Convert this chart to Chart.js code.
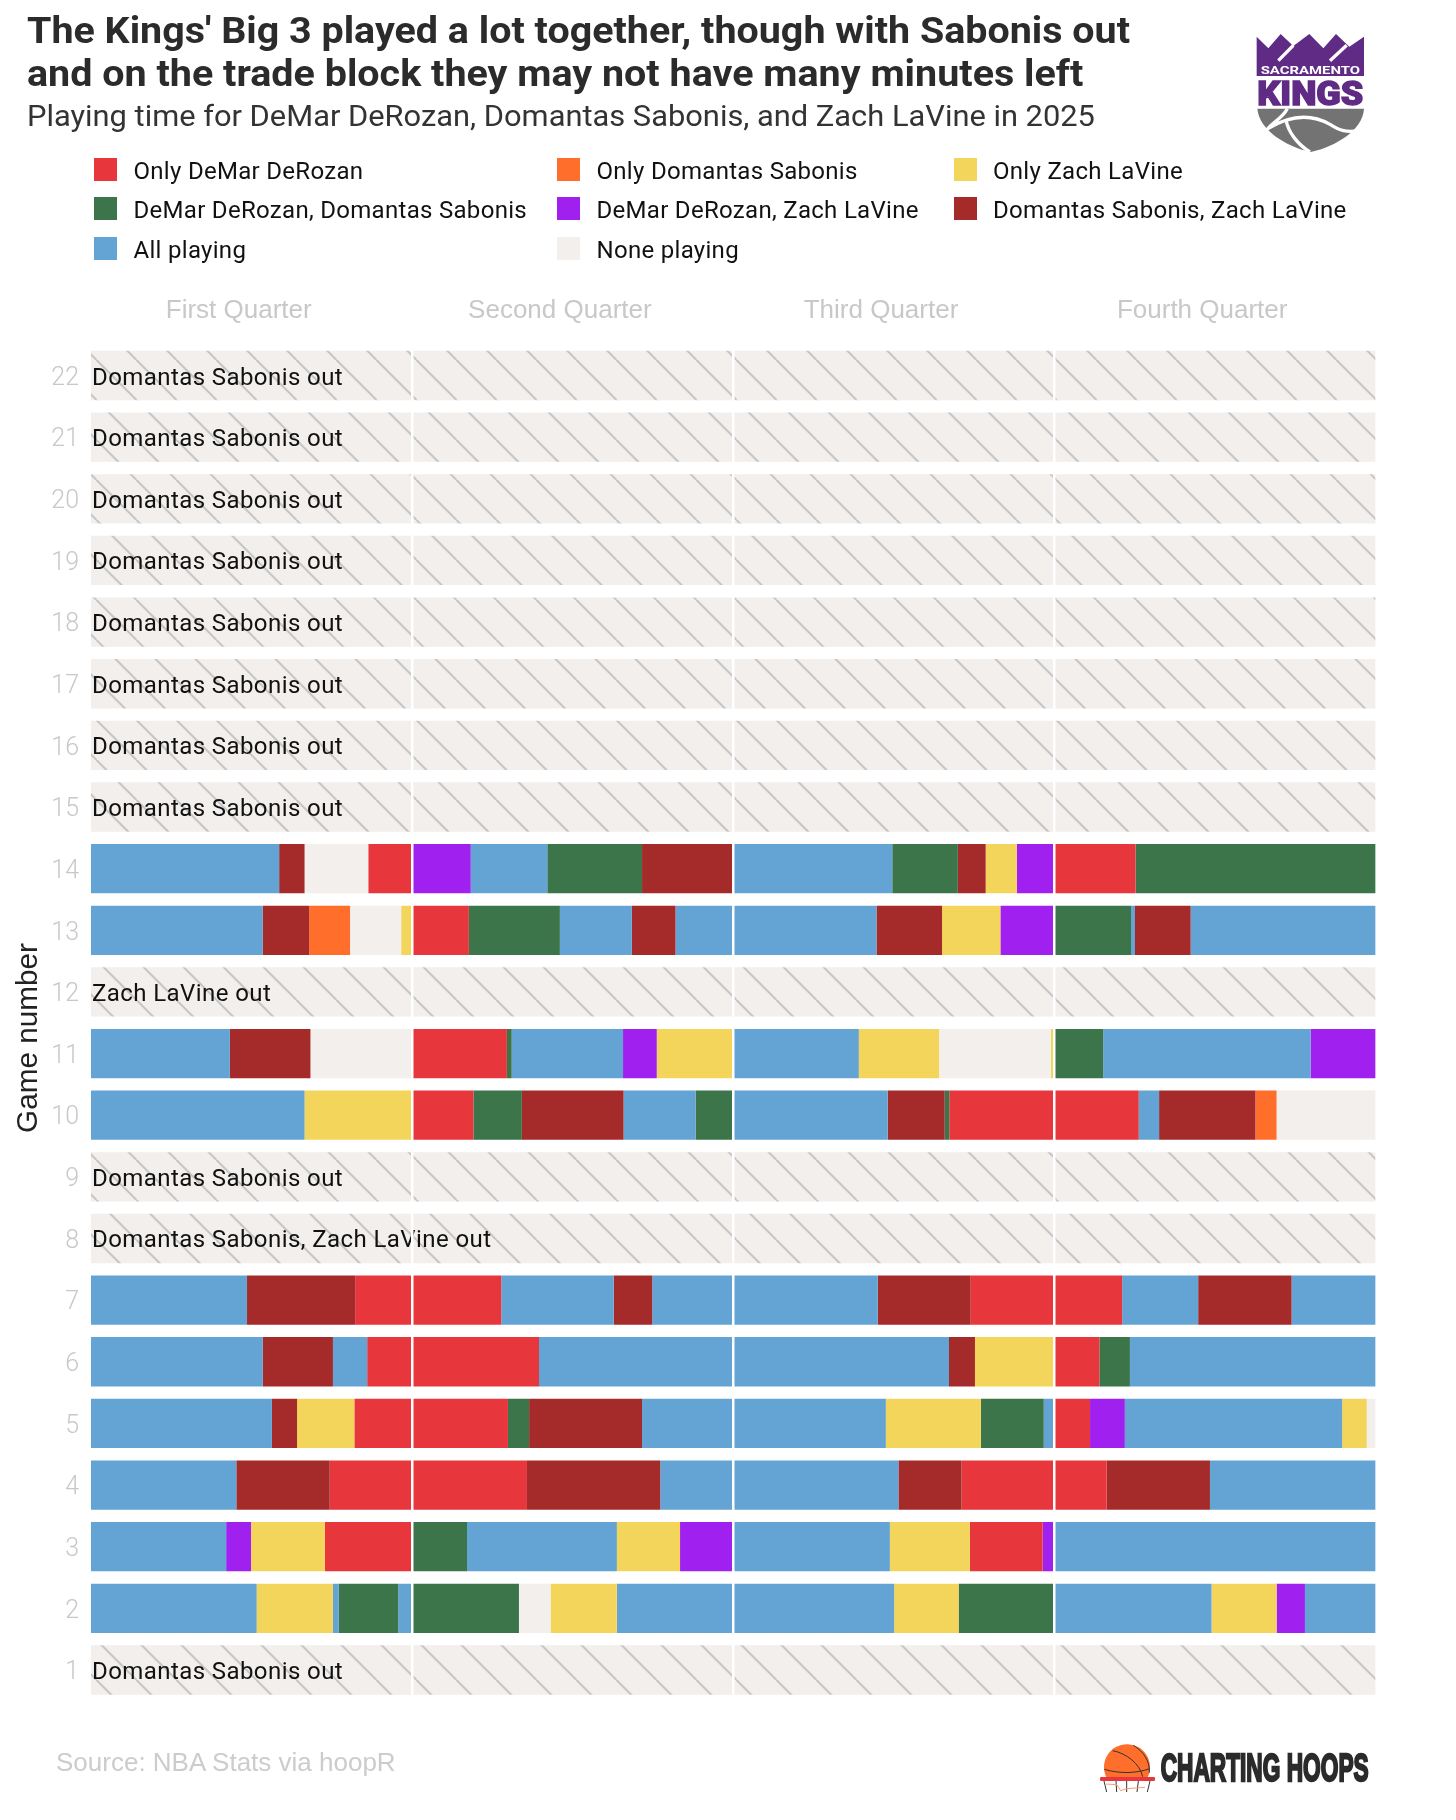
<!DOCTYPE html>
<html>
<head>
<meta charset="utf-8">
<title>Kings Big 3 playing time</title>
<script src="https://cdn.jsdelivr.net/npm/chart.js@4"></script>
<style>
  body { margin: 0; background: #fff; }
  #page { position: relative; width: 1456px; height: 1820px; overflow: hidden; font-family: Roboto, sans-serif; }
  #chart { position: absolute; left: 0; top: 0; }
  .txt { position: absolute; white-space: nowrap; transform-origin: left center; }
  .title { font-weight: 700; font-size: 37px; line-height: 44px; color: #2b2b2b; }
  .sub { font-weight: 400; font-size: 30px; line-height: 36px; color: #333; }
  .leg { font-size: 24px; line-height: 30px; color: #111; letter-spacing: 0.3px; }
  .swatch { position: absolute; width: 23px; height: 23px; }
  .source { font-family: "Liberation Sans", sans-serif; font-size: 26px; line-height: 30px; color: #ccc; }
  svg { position: absolute; }
</style>
</head>
<body>
<div id="page">
  <canvas id="chart" width="1456" height="1820"></canvas>

  <div class="txt title" data-w="1103" style="left:27px;top:9px">The Kings' Big 3 played a lot together, though with Sabonis out</div>
  <div class="txt title" data-w="1056" style="left:27px;top:52px">and on the trade block they may not have many minutes left</div>
  <div class="txt sub" data-w="1068" style="left:27px;top:98px">Playing time for DeMar DeRozan, Domantas Sabonis, and Zach LaVine in 2025</div>
  <div class="txt source" style="left:56px;top:1747px">Source: NBA Stats via hoopR</div>

  <svg style="left:1250px;top:20px" width="130" height="140" viewBox="0 0 390 420">
    <path fill="#5f2b85" d="M20 50 L55 85 L92 42 L130 78 L178 42 L220 85 L258 42 L298 80 L342 50 L342 168 L20 168 Z"/>
    <path stroke="#fff" stroke-width="10" d="M85 122 L130 76 M240 122 L290 76"/>
    <text x="32" y="162" fill="#fff" font-family="Roboto" font-weight="700" font-size="34" textLength="298" lengthAdjust="spacingAndGlyphs">SACRAMENTO</text>
    <text x="22" y="256" fill="#5f2b85" stroke="#5f2b85" stroke-width="4" font-family="Roboto" font-weight="900" font-size="100" textLength="318" lengthAdjust="spacingAndGlyphs">KINGS</text>
    <path fill="#737373" d="M22 266 L342 266 C338 330 260 378 182 396 C105 378 28 330 22 266 Z"/>
    <path fill="none" stroke="#fff" stroke-width="10" d="M112 266 C95 298 60 310 45 338 M55 325 C130 280 190 285 240 313 C270 332 290 338 325 332 M108 300 C115 338 145 375 180 396"/>
  </svg>

  <svg style="left:1100px;top:1740px" width="300" height="70" viewBox="0 0 900 210">
    <path fill="#ff6e2a" d="M19 112 A69 69 0 1 1 143 112 Z"/>
    <path fill="none" stroke="#333" stroke-width="3" d="M13 88 C60 102 110 100 149 86 M38 32 C80 40 120 72 128 110 M100 16 C130 34 150 62 148 98"/>
    <rect x="0" y="111" width="165" height="12" rx="4" fill="#e8363d"/>
    <path fill="none" stroke="#333" stroke-width="3" d="M12 123 L20 156 M48 123 L50 156 M80 123 L80 156 M115 123 L111 156 M150 123 L142 156"/>
    <path fill="none" stroke="#ff9a66" stroke-width="3" d="M18 132 L50 134 L62 152 L80 146 L135 142"/>
    <text x="182" y="124" fill="#2b2b2b" stroke="#2b2b2b" stroke-width="7" font-family="Liberation Sans" font-weight="700" font-size="116" textLength="624" lengthAdjust="spacingAndGlyphs">CHARTING HOOPS</text>
  </svg>
</div>

<script>
const statusLabels = ['Only DeMar DeRozan', 'Only Domantas Sabonis', 'Only Zach LaVine',
  'DeMar DeRozan, Domantas Sabonis', 'DeMar DeRozan, Zach LaVine', 'Domantas Sabonis, Zach LaVine',
  'All playing', 'None playing'];
const statusColors = ['#e8363d', '#ff6e2a', '#f4d55b', '#3b7549', '#a020f0', '#a52a2a', '#63a4d4', '#f2efec'];
const [DD, DS, ZL, DD_DS, DD_ZL, DS_ZL, ALL, NONE] = statusLabels.keys();

const gameNumbers = ['22', '21', '20', '19', '18', '17', '16', '15', '14', '13', '12', '11', '10', '9', '8', '7', '6', '5', '4', '3', '2', '1'];
const quarterLabels = ['First Quarter', 'Second Quarter', 'Third Quarter', 'Fourth Quarter'];
const quarterLabelMinutes = [5.52, 17.52, 29.52, 41.52];
const quarterBreaks = [12, 24, 36];

// [who is on the floor, game minute the stint ends]
const game14 = [[ALL, 7.03], [DS_ZL, 7.98], [NONE, 10.36], [DD, 12], [DD_ZL, 14.19], [ALL, 17.05], [DD_DS, 20.59], [DS_ZL, 24], [ALL, 29.94], [DD_DS, 32.39], [DS_ZL, 33.43], [ZL, 34.59], [DD_ZL, 36], [DD, 39.03], [DD_DS, 48]];
const game13 = [[ALL, 6.42], [DS_ZL, 8.15], [DS, 9.68], [NONE, 11.59], [ZL, 12], [DD, 14.12], [DD_DS, 17.52], [ALL, 20.21], [DS_ZL, 21.84], [ALL, 29.35], [DS_ZL, 31.8], [ZL, 33.98], [DD_ZL, 36], [DD_DS, 38.86], [ALL, 39.01], [DS_ZL, 41.09], [ALL, 48]];
const game11 = [[ALL, 5.19], [DS_ZL, 8.2], [NONE, 12], [DD, 15.54], [DD_DS, 15.72], [ALL, 19.88], [DD_ZL, 21.14], [ZL, 24], [ALL, 28.69], [ZL, 31.69], [NONE, 35.86], [ZL, 36], [DD_DS, 37.82], [ALL, 45.57], [DD_ZL, 48]];
const game10 = [[ALL, 7.98], [ZL, 12], [DD, 14.29], [DD_DS, 16.1], [DS_ZL, 19.9], [ALL, 22.59], [DD_DS, 24], [ALL, 29.77], [DS_ZL, 31.9], [DD_DS, 32.07], [DD, 39.15], [ALL, 39.91], [DS_ZL, 43.51], [DS, 44.3], [NONE, 48]];
const game7 = [[ALL, 5.83], [DS_ZL, 9.87], [DD, 15.33], [ALL, 19.53], [DS_ZL, 20.97], [ALL, 29.4], [DS_ZL, 32.87], [DD, 38.53], [ALL, 41.37], [DS_ZL, 44.86], [ALL, 48]];
const game6 = [[ALL, 6.42], [DS_ZL, 9.04], [ALL, 10.32], [DD, 16.74], [ALL, 32.06], [DS_ZL, 33.03], [ZL, 36], [DD, 37.68], [DD_DS, 38.82], [ALL, 48]];
const game5 = [[ALL, 6.76], [DS_ZL, 7.7], [ZL, 9.84], [DD, 15.58], [DD_DS, 16.37], [DS_ZL, 20.59], [ALL, 29.7], [ZL, 33.25], [DD_DS, 35.6], [ALL, 36], [DD, 37.33], [DD_ZL, 38.63], [ALL, 46.75], [ZL, 47.67], [NONE, 48]];
const game4 = [[ALL, 5.43], [DS_ZL, 8.92], [DD, 16.29], [DS_ZL, 21.27], [ALL, 30.17], [DS_ZL, 32.53], [DD, 37.95], [DS_ZL, 41.81], [ALL, 48]];
const game3 = [[ALL, 5.05], [DD_ZL, 5.98], [ZL, 8.74], [DD, 12], [DD_DS, 14.05], [ALL, 19.65], [ZL, 22.01], [DD_ZL, 24], [ALL, 29.85], [ZL, 32.84], [DD, 35.56], [DD_ZL, 36], [ALL, 48]];
const game2 = [[ALL, 6.19], [ZL, 9.04], [ALL, 9.26], [DD_DS, 11.48], [ALL, 12], [DD_DS, 15.99], [NONE, 17.17], [ZL, 19.65], [ALL, 30.01], [ZL, 32.42], [DD_DS, 36], [ALL, 41.87], [ZL, 44.3], [DD_ZL, 45.36], [ALL, 48]];
const playedGames = { 14: game14, 13: game13, 11: game11, 10: game10, 7: game7, 6: game6, 5: game5, 4: game4, 3: game3, 2: game2 };

const missedGames = ['22', '21', '20', '19', '18', '17', '16', '15', '12', '9', '8', '1'];
const missedNotes = ['Domantas Sabonis out', 'Domantas Sabonis out', 'Domantas Sabonis out', 'Domantas Sabonis out',
  'Domantas Sabonis out', 'Domantas Sabonis out', 'Domantas Sabonis out', 'Domantas Sabonis out',
  'Zach LaVine out', 'Domantas Sabonis out', 'Domantas Sabonis, Zach LaVine out', 'Domantas Sabonis out'];

// legend columns are not evenly spaced, so it is plain html
const legendCols = [[94, 133.5], [557, 596.5], [954, 993]];
const legendRows = [170, 209, 249];
const page = document.getElementById('page');
statusLabels.forEach((label, i) => {
  const [swatchX, textX] = legendCols[i % 3];
  const y = legendRows[Math.floor(i / 3)];
  const swatch = document.createElement('div');
  swatch.className = 'swatch';
  swatch.style.cssText = `left:${swatchX}px;top:${y - 12}px;background:${statusColors[i]}`;
  page.appendChild(swatch);
  const text = document.createElement('div');
  text.className = 'txt leg';
  text.textContent = label;
  text.style.cssText = `left:${textX}px;top:${y - 14}px`;
  page.appendChild(text);
});

// squeeze the heading lines to the width they have in the original
document.querySelectorAll('[data-w]').forEach(el => {
  el.style.transform = `scaleX(${el.dataset.w / el.offsetWidth})`;
});

function hatchPattern() {
  const tile = document.createElement('canvas');
  tile.width = 40;
  tile.height = 40;
  const c = tile.getContext('2d');
  c.fillStyle = statusColors[NONE];
  c.fillRect(0, 0, 40, 40);
  c.strokeStyle = '#c6c6c6';
  c.lineWidth = 2;
  for (let k = -2; k <= 1; k++) {
    c.beginPath();
    c.moveTo(16.5 + k * 40, 0);
    c.lineTo(16.5 + k * 40 + 40, 40);
    c.stroke();
  }
  return c.createPattern(tile, 'repeat');
}

function rowData(game, range) {
  return gameNumbers.map(g => (g === game ? range : null));
}

const datasets = [];
const hatch = hatchPattern();
missedGames.forEach(game => {
  datasets.push({ label: 'out', data: rowData(game, [0, 48]), backgroundColor: hatch, xAxisID: 'x' });
});
Object.keys(playedGames).forEach(game => {
  let start = 0;
  playedGames[game].forEach(([status, end]) => {
    datasets.push({ label: statusLabels[status], data: rowData(game, [start, end]), backgroundColor: statusColors[status], xAxisID: 'x' });
    start = end;
  });
});

const annotate = {
  id: 'annotate',
  afterDatasetsDraw(chart) {
    const ctx = chart.ctx;
    const { x, y } = chart.scales;
    ctx.save();
    ctx.font = '24px Roboto';
    ctx.fillStyle = '#111';
    ctx.textBaseline = 'middle';
    ctx.letterSpacing = '0.42px';
    missedGames.forEach((game, i) => {
      ctx.fillText(missedNotes[i], x.getPixelForValue(0) + 1, y.getPixelForValue(gameNumbers.indexOf(game)) + 3);
    });
    ctx.restore();
  },
  afterDraw(chart) {
    const ctx = chart.ctx;
    ctx.save();
    ctx.translate(29, 1038);
    ctx.rotate(-Math.PI / 2);
    ctx.font = '29.7px "Liberation Sans"';
    ctx.fillStyle = '#222';
    ctx.textAlign = 'center';
    ctx.textBaseline = 'middle';
    ctx.fillText('Game number', 0, 0);
    ctx.restore();
  }
};

new Chart(document.getElementById('chart'), {
  type: 'bar',
  data: { labels: gameNumbers, datasets: datasets },
  plugins: [annotate],
  options: {
    indexAxis: 'y',
    responsive: false,
    animation: false,
    devicePixelRatio: 1,
    layout: { padding: { left: 0, top: 0, right: 80.4, bottom: 119.2 } },
    datasets: { bar: { grouped: false, barPercentage: 0.8, categoryPercentage: 1, borderWidth: 0 } },
    plugins: { legend: { display: false }, tooltip: { enabled: false } },
    scales: {
      y: {
        grid: { display: false },
        border: { display: false },
        afterFit: s => { s.width = 91; },
        ticks: {
          color: '#c8c8c8',
          padding: 4,
          autoSkip: false,
          font: { family: 'Roboto', size: 25, weight: '300', lineHeight: '6px' },
          // empty first line nudges the number down a little
          callback(v) { return ['', this.getLabelForValue(v)]; }
        }
      },
      x: {
        position: 'top',
        min: 0,
        max: 48,
        grid: { display: false, drawTicks: false },
        border: { display: false },
        afterBuildTicks: s => { s.ticks = quarterLabelMinutes.map(v => ({ value: v })); },
        afterFit: s => { s.height = 344.7; },
        ticks: {
          color: '#c8c8c8',
          padding: 18.5,
          autoSkip: false,
          maxRotation: 0,
          font: { family: 'Liberation Sans', size: 26 },
          callback: v => quarterLabels[quarterLabelMinutes.indexOf(v)]
        }
      },
      x2: {
        position: 'bottom',
        min: 0,
        max: 48,
        border: { display: false },
        grid: { color: '#fff', lineWidth: 2.5, z: 1, drawTicks: false },
        afterBuildTicks: s => { s.ticks = quarterBreaks.map(v => ({ value: v })); },
        afterFit: s => { s.height = 0; },
        ticks: { display: false }
      }
    }
  }
});
</script>
</body>
</html>
